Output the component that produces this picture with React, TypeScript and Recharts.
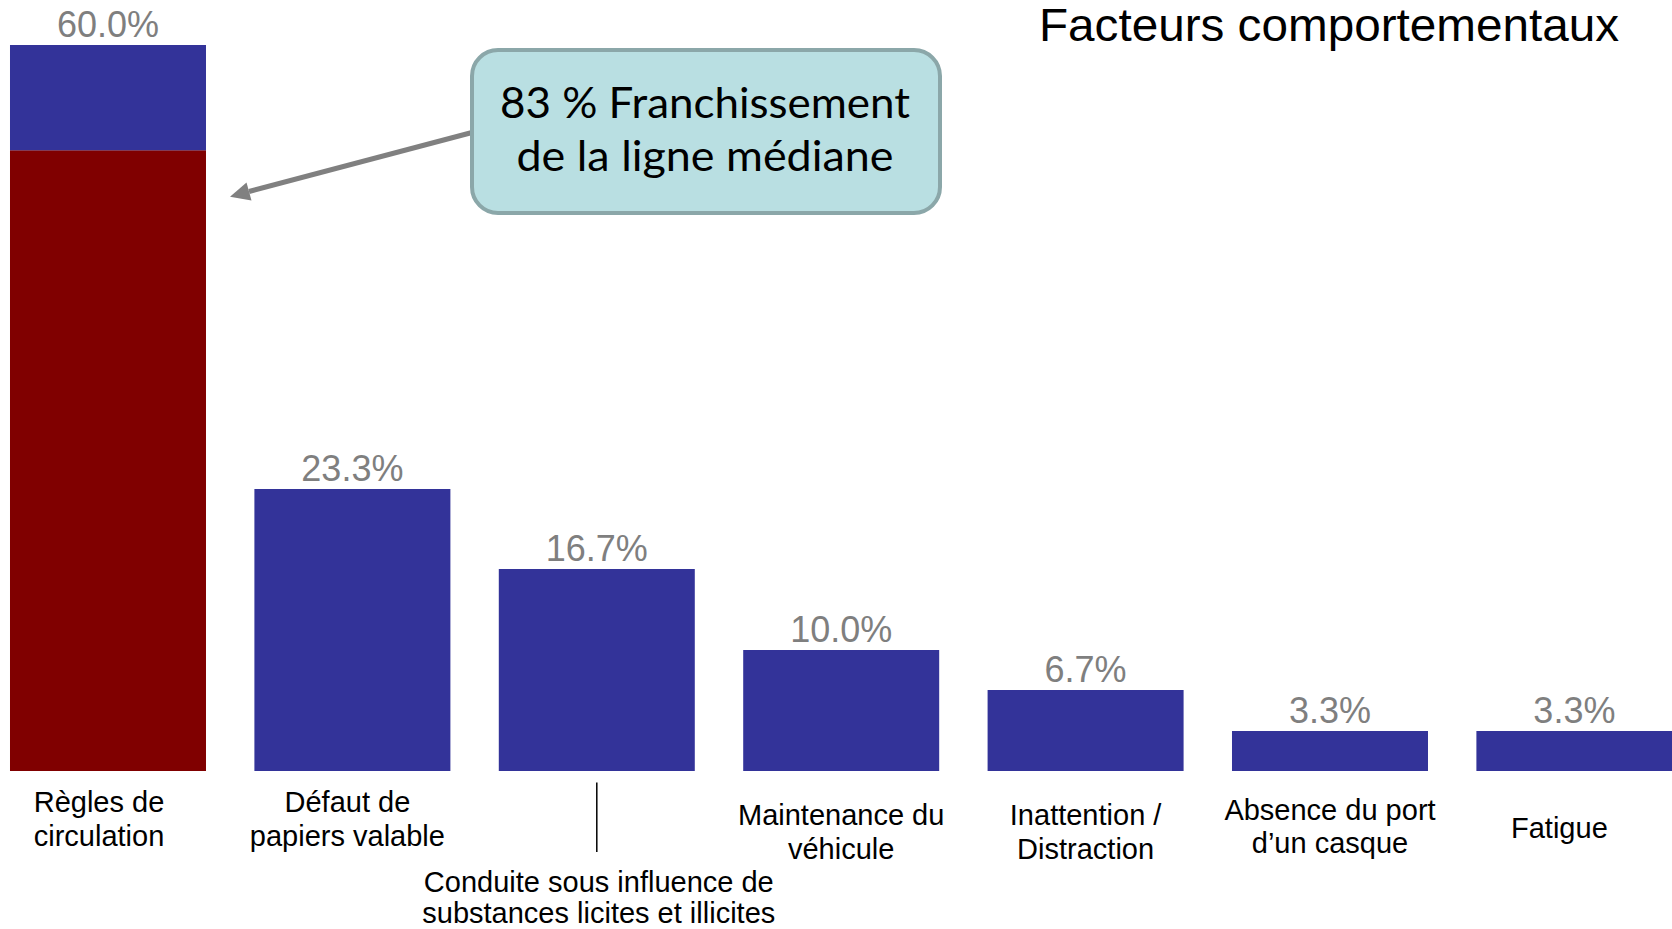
import { Bar, BarChart, LabelList, XAxis, YAxis } from 'recharts'

const categories = [
  'Règles de\ncirculation',
  'Défaut de\npapiers valable',
  'Conduite sous influence de\nsubstances licites et illicites',
  'Maintenance du\nvéhicule',
  'Inattention /\nDistraction',
  'Absence du port\nd’un casque',
  'Fatigue',
]
// share of cases per behavioural factor (%)
const shares = [60.0, 23.3, 16.7, 10.0, 6.7, 3.3, 3.3]
// part of the bar that is centre-line crossing (red)
const crossingShares = [51.3, 0, 0, 0, 0, 0, 0]

const TITLE = 'Facteurs comportementaux'
const NOTE = ['83 % Franchissement', 'de la ligne médiane']

const BLUE = '#333399'
const RED = '#800000'
const LABEL_GREY = '#7f7f7f'
const FONT = '"Liberation Sans", Arial, sans-serif'
const NOTE_FONT = 'Lato, "Open Sans", sans-serif'

// per-tick tweaks: horizontal shift, first baseline, line height
const TICK_LAYOUT = [
  { dx: -9, y: 811.5, lh: 34 },
  { dx: -5, y: 811.5, lh: 34 },
  { dx: 2, y: 891.5, lh: 31.5, leader: true },
  { dx: 0, y: 824.5, lh: 34 },
  { dx: 0, y: 824.5, lh: 34 },
  { dx: 0, y: 820, lh: 33 },
  { dx: -15, y: 838, lh: 33 },
]

const rows = categories.map((name, i) => ({
  name,
  red: crossingShares[i],
  blue: +(shares[i] - crossingShares[i]).toFixed(1),
  total: shares[i],
}))

function CategoryTick(props: any) {
  const { x, index } = props
  const layout = TICK_LAYOUT[index] || { dx: 0, y: 820, lh: 34 }
  const lines = String(props.payload?.value ?? '').split('\n')
  const cx = x + layout.dx
  return (
    <g>
      {layout.leader && <line x1={cx - 2} x2={cx - 2} y1={782.5} y2={852} stroke="#000" strokeWidth={1.5} />}
      <text x={cx} y={layout.y} textAnchor="middle" fontSize={29} fontFamily={FONT} fill="#000">
        {lines.map((l, k) => (
          <tspan key={k} x={cx} y={layout.y + k * layout.lh}>
            {l}
          </tspan>
        ))}
      </text>
    </g>
  )
}

export default function App() {
  return (
    <div style={{ position: 'absolute', left: 0, top: 0, width: 1672, height: 929, background: '#fff' }}>
      <BarChart
        width={1672}
        height={929}
        data={rows}
        barCategoryGap="9.9%"
        margin={{ top: 45, right: -24.6, left: -14.2, bottom: 0 }}
      >
        <XAxis
          dataKey="name"
          interval={0}
          tickLine={false}
          axisLine={false}
          height={158}
          tick={<CategoryTick />}
        />
        <YAxis hide domain={[0, 60]} />
        <Bar dataKey="red" stackId="s" fill={RED} isAnimationActive={false} />
        <Bar dataKey="blue" stackId="s" fill={BLUE} isAnimationActive={false}>
          <LabelList
            dataKey="total"
            position="top"
            offset={8}
            formatter={(v: any) => `${Number(v).toFixed(1)}%`}
            fill={LABEL_GREY}
            fontSize={36}
            fontFamily={FONT}
          />
        </Bar>
      </BarChart>
      <svg
        width={1672}
        height={929}
        style={{ position: 'absolute', left: 0, top: 0, pointerEvents: 'none' }}
      >
        <text x={1619} y={40.5} textAnchor="end" fontSize={46} fontFamily={FONT} fill="#000" textLength={580} lengthAdjust="spacingAndGlyphs">
          {TITLE}
        </text>
        <line x1={472} y1={132.5} x2={249} y2={191.5} stroke="#808080" strokeWidth={5} />
        <polygon points="230,196.7 246.5,182.5 251.5,200.5" fill="#808080" />
        <rect x={472} y={50} width={468} height={163} rx={26} ry={26} fill="#b9dfe2" stroke="#8ba7a9" strokeWidth={4} />
        <text x={705} y={118} textAnchor="middle" fontSize={42} fontFamily={NOTE_FONT} fill="#000" textLength={410} lengthAdjust="spacingAndGlyphs">
          {NOTE[0]}
        </text>
        <text x={705} y={171} textAnchor="middle" fontSize={42} fontFamily={NOTE_FONT} fill="#000" textLength={377} lengthAdjust="spacingAndGlyphs">
          {NOTE[1]}
        </text>
      </svg>
    </div>
  )
}
